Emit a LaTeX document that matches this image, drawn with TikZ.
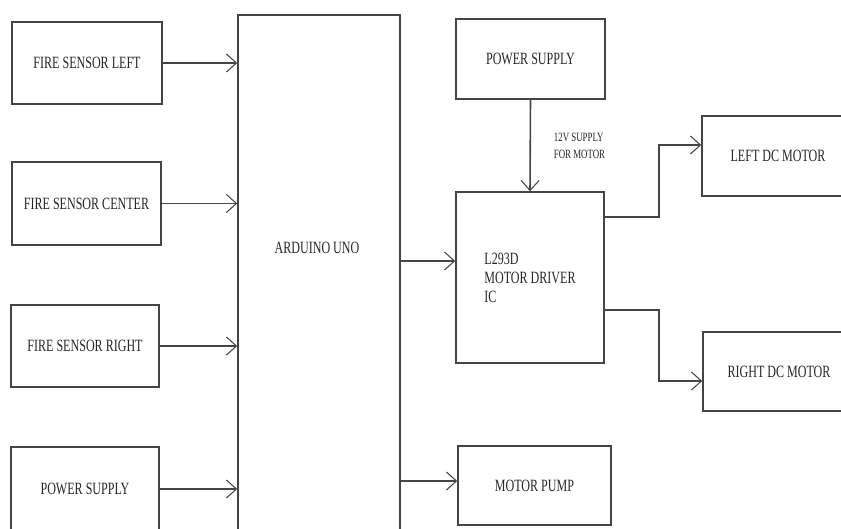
\documentclass[tikz,border=0pt]{standalone}
\usepackage{fontspec}
\setmainfont{Liberation Serif}[FakeStretch=0.7]
\usetikzlibrary{arrows.meta,positioning}
\definecolor{linegray}{HTML}{444444}
\begin{document}
\begin{tikzpicture}[x=0.02cm, y=-0.02cm,
            block/.style={rectangle, draw=linegray, line width=0.9pt, inner sep=0pt, text=black!85, font=\fontsize{9.8}{10.8}\selectfont},
            conn/.style={draw=linegray, line width=0.9pt, -{Straight Barb[length=2mm, width=3.6mm, line width=0.6pt]}}
            ]
            \useasboundingbox (0,0) rectangle (841,528);
            \clip (0,0) rectangle (841,528);

            % inputs
            \node[block, minimum width=3cm, minimum height=1.64cm] (fsl) at (87,63) {FIRE SENSOR LEFT};
            \node[block, minimum width=2.98cm, minimum height=1.66cm] (fsc) at (86.5,203.5) {FIRE SENSOR CENTER};
            \node[block, minimum width=2.96cm, minimum height=1.64cm] (fsr) at (85,346) {FIRE SENSOR RIGHT};
            \node[block, minimum width=2.96cm, minimum height=1.68cm] (psl) at (85,489) {POWER SUPPLY};

            % controller
            \node[block, minimum width=3.24cm, minimum height=10.5cm] (uno) at (319,277.5) {};
            \node[text=black!85, font=\fontsize{9.8}{10.8}\selectfont] (unotxt) at (317,248) {ARDUINO UNO};

            % outputs
            \node[block, minimum width=2.98cm, minimum height=1.6cm] (psr) at (530.5,59) {POWER SUPPLY};
            \node[block, minimum width=2.96cm, minimum height=3.42cm, align=left] (drv) at (530,277.5) {L293D\\MOTOR DRIVER\\IC};
            \node[block, minimum width=3.04cm, minimum height=1.6cm] (lmot) at (778,156) {LEFT DC MOTOR};
            \node[block, minimum width=3.04cm, minimum height=1.58cm] (rmot) at (779,371.5) {RIGHT DC MOTOR};
            \node[block, minimum width=3.06cm, minimum height=1.58cm] (pump) at (534.5,485.5) {MOTOR PUMP};

            \coordinate (drvin) at ([yshift=0.33cm]drv.west);
            \coordinate (pumpin) at ([yshift=0.09cm]pump.west);
            \coordinate (drvup) at ([yshift=1.21cm]drv.east);
            \coordinate (drvdn) at ([yshift=-0.65cm]drv.east);
            \coordinate (lmin) at ([yshift=0.22cm]lmot.west);
            \coordinate (rmin) at ([yshift=-0.19cm]rmot.west);

            \draw[conn] (fsl.east) -- (fsl.east -| uno.west);
            \draw[conn] (fsc.east) -- (fsc.east -| uno.west);
            \draw[conn] (fsr.east) -- (fsr.east -| uno.west);
            \draw[conn] (psl.east) -- (psl.east -| uno.west);
            \draw[conn] (drvin -| uno.east) -- (drvin);
            \draw[conn] (pumpin -| uno.east) -- (pumpin);
            \draw[conn] (psr.south) -- node[right=0.34cm, align=left, text=black!85, font=\fontsize{7.2}{9.6}\selectfont] (supply) {12V SUPPLY\\FOR MOTOR} (drv.north);
            \draw[conn] (drvup) -- ++(54,0) |- (lmin);
            \draw[conn] (drvdn) -- ++(54,0) |- (rmin);
\end{tikzpicture}
\end{document}
